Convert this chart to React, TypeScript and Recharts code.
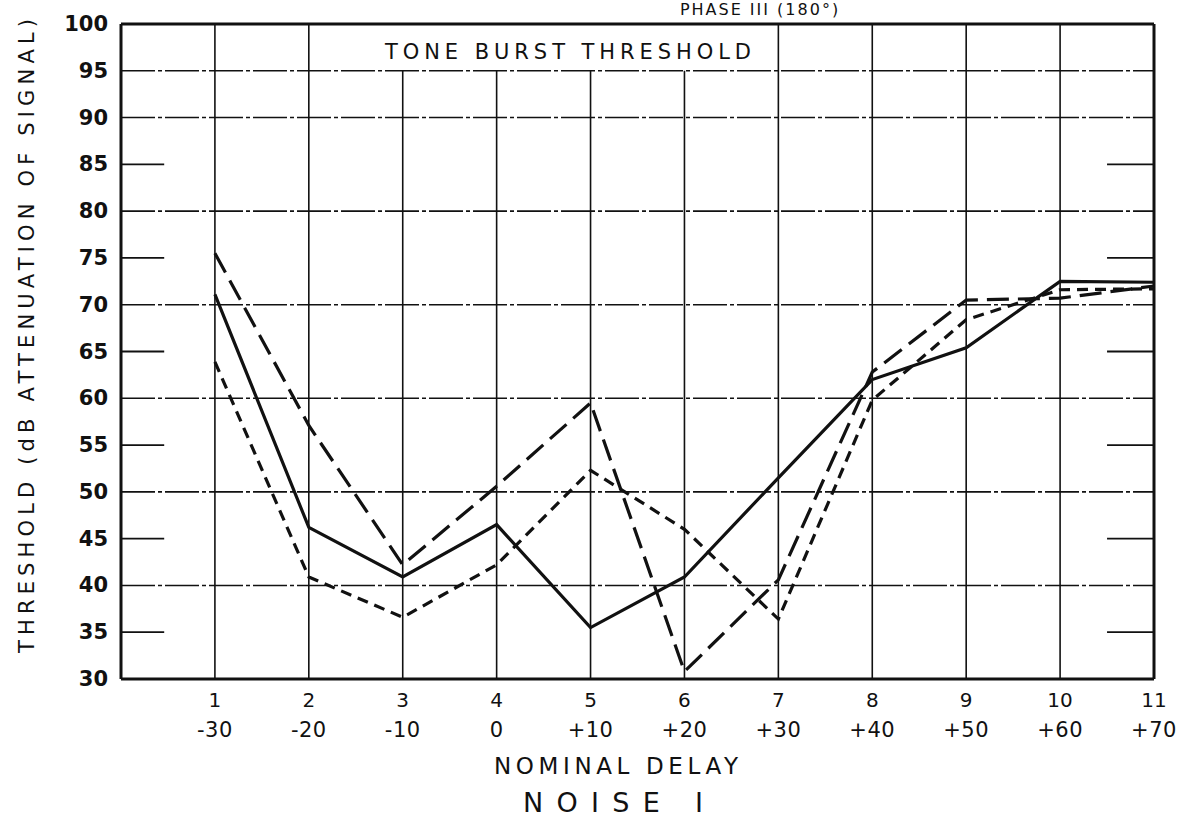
import React from 'react';
import { LineChart, Line, XAxis, YAxis, ReferenceLine } from 'recharts';

// categories (trial numbers) and the nominal delay tick labels under them
const categories = [1, 2, 3, 4, 5, 6, 7, 8, 9, 10, 11];
const delayLabels = ['-30', '-20', '-10', '0', '+10', '+20', '+30', '+40', '+50', '+60', '+70'];

// series values (threshold, dB attenuation of signal)
const solidSeries = [71.1, 46.2, 40.9, 46.5, 35.5, 40.9, 51.5, 62.0, 65.4, 72.5, 72.4];
const longDashSeries = [75.5, 57.1, 42.2, 50.6, 59.5, 30.8, 40.6, 62.8, 70.5, 70.7, 72.0];
const shortDashSeries = [63.9, 40.9, 36.6, 42.2, 52.3, 46.0, 36.4, 59.8, 68.4, 71.6, 71.7];

// y tick labels and grid layout
const yTicks = [30, 35, 40, 45, 50, 55, 60, 65, 70, 75, 80, 85, 90, 95, 100];
const fullGridY = [95, 90, 80, 70, 60, 50, 40];
const shortTickY = [85, 75, 65, 55, 45, 35];
const fullGridX = [1, 2, 7, 8, 9, 10];
const boxedGridX = [3, 4, 5, 6];

const data = categories.map((c, i) => ({
  x: c,
  solid: solidSeries[i],
  longDash: longDashSeries[i],
  shortDash: shortDashSeries[i],
}));

const INK = '#111';
const sans = "'DejaVu Sans', sans-serif";

const XTick = (props: any) => {
  const { x, y, payload } = props;
  const idx = categories.indexOf(payload.value);
  return (
    <g>
      <text x={x} y={y + 28} textAnchor="middle" fontFamily={sans} fontSize={20} fill={INK}>
        {payload.value}
      </text>
      <text x={x} y={y + 58} textAnchor="middle" fontFamily={sans} fontSize={21} fill={INK} letterSpacing={0.5}>
        {delayLabels[idx]}
      </text>
    </g>
  );
};

const YTick = (props: any) => {
  const { y, payload } = props;
  return (
    <text x={108} y={y} dy={7} textAnchor="end" fontFamily={sans} fontWeight="bold" fontSize={21} fill={INK}>
      {payload.value}
    </text>
  );
};

export default function App() {
  return (
    <div style={{ position: 'absolute', left: 0, top: 0, width: 1193, height: 821, background: '#fff' }}>
      <LineChart width={1193} height={821} data={data} margin={{ top: 24, right: 39, bottom: 0, left: 0 }}>
        <XAxis
          dataKey="x"
          type="number"
          domain={[0, 11]}
          ticks={categories}
          interval={0}
          height={142}
          axisLine={false}
          tickLine={false}
          tickSize={0}
          tickMargin={0}
          tick={<XTick />}
        />
        <YAxis
          type="number"
          domain={[30, 100]}
          ticks={yTicks}
          interval={0}
          width={121}
          axisLine={false}
          tickLine={false}
          tickSize={0}
          tickMargin={0}
          tick={<YTick />}
        />
        {fullGridY.map((v) => (
          <ReferenceLine key={'gy' + v} y={v} stroke={INK} strokeWidth={1.6} strokeDasharray="34 3 4 3" />
        ))}
        {shortTickY.map((v) => (
          <ReferenceLine key={'tl' + v} segment={[{ x: 0, y: v }, { x: 0.46, y: v }]} stroke={INK} strokeWidth={1.8} />
        ))}
        {shortTickY.map((v) => (
          <ReferenceLine key={'tr' + v} segment={[{ x: 10.5, y: v }, { x: 11, y: v }]} stroke={INK} strokeWidth={1.8} />
        ))}
        {fullGridX.map((v) => (
          <ReferenceLine key={'gx' + v} x={v} stroke={INK} strokeWidth={1.6} />
        ))}
        {boxedGridX.map((v) => (
          <ReferenceLine key={'bx' + v} segment={[{ x: v, y: 30 }, { x: v, y: 95 }]} stroke={INK} strokeWidth={1.6} />
        ))}
        <ReferenceLine x={0} stroke={INK} strokeWidth={3} />
        <ReferenceLine x={11} stroke={INK} strokeWidth={3} />
        <ReferenceLine y={30} stroke={INK} strokeWidth={3} />
        <ReferenceLine y={100} stroke={INK} strokeWidth={3} />
        <Line type="linear" dataKey="solid" stroke={INK} strokeWidth={3.2} dot={false} isAnimationActive={false} />
        <Line type="linear" dataKey="longDash" stroke={INK} strokeWidth={3.2} strokeDasharray="22 9" dot={false} isAnimationActive={false} />
        <Line type="linear" dataKey="shortDash" stroke={INK} strokeWidth={3.2} strokeDasharray="11 7" dot={false} isAnimationActive={false} />
      </LineChart>
      <svg width={1193} height={821} style={{ position: 'absolute', left: 0, top: 0, pointerEvents: 'none' }}>
        <text x={760} y={15} textAnchor="middle" fontFamily={sans} fontSize={16} fill={INK} letterSpacing={2}>
          PHASE III (180°)
        </text>
        <text x={568} y={59} textAnchor="middle" fontFamily={sans} fontSize={21} fill={INK} textLength={366} lengthAdjust="spacing">
          TONE BURST THRESHOLD
        </text>
        <text
          x={0}
          y={0}
          transform="translate(34, 336) rotate(-90)"
          textAnchor="middle"
          fontFamily={sans}
          fontSize={21}
          fill={INK}
          textLength={634}
          lengthAdjust="spacing"
        >
          THRESHOLD (dB ATTENUATION OF SIGNAL)
        </text>
        <text x={616} y={774} textAnchor="middle" fontFamily={sans} fontSize={23} fill={INK} textLength={244} lengthAdjust="spacing">
          NOMINAL DELAY
        </text>
        <text x={613} y={812} textAnchor="middle" fontFamily={sans} fontSize={27} fill={INK} textLength={180} lengthAdjust="spacing">
          NOISE I
        </text>
      </svg>
    </div>
  );
}
